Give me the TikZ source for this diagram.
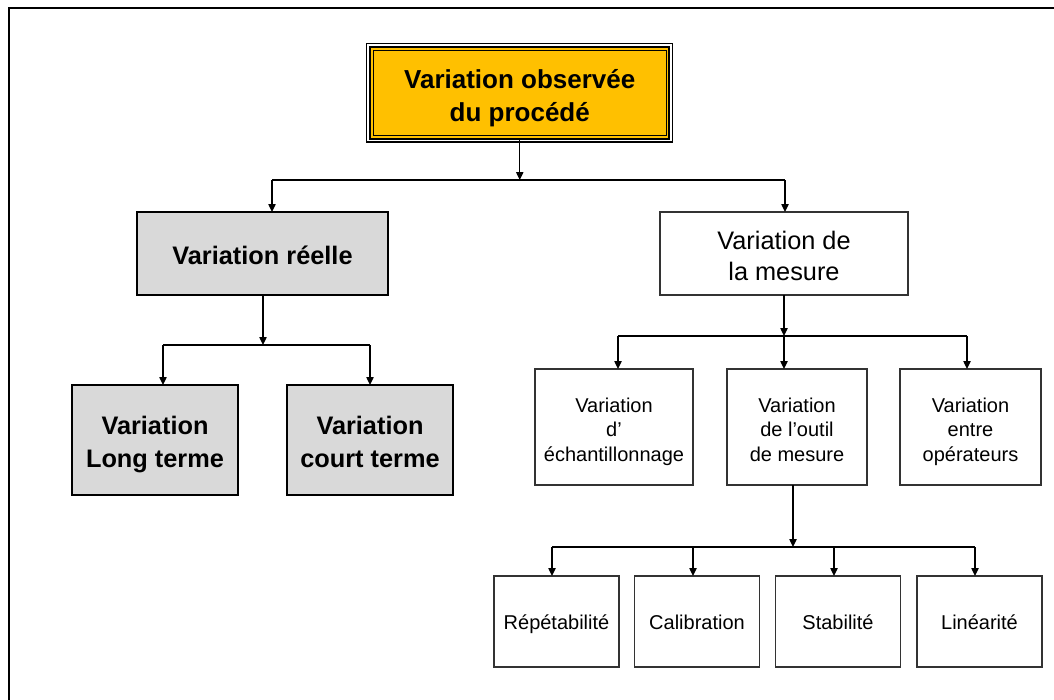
\documentclass[tikz,border=0pt]{standalone}
\usepackage{fontspec}
\setmainfont{Liberation Sans}
\usetikzlibrary{arrows.meta}
\definecolor{boxyellow}{HTML}{FFC000}
\definecolor{boxgrey}{HTML}{D9D9D9}
\definecolor{edgegrey}{HTML}{333333}
% invisible rules that set the room above the first line and below the last one
\newcommand\topgap[1]{\rule{0pt}{#1pt}}
\newcommand\botgap[1]{\rule[-#1pt]{0pt}{#1pt}}
\begin{document}
\begin{tikzpicture}[x=0.75pt,y=-0.75pt,
  conn/.style={line width=1pt},
  arr/.style={conn,-{Triangle[length=6pt,width=5.5pt]}},
  basebox/.style={rectangle,inner sep=0pt,outer sep=0pt,align=center},
  headbox/.style={basebox,draw=black,line width=1.5pt,fill=boxyellow,
    font=\fontsize{19.5}{25}\selectfont\bfseries},
  greybox/.style={basebox,draw=black,line width=2.2pt,fill=boxgrey,
    font=\fontsize{19}{24.5}\selectfont\bfseries},
  plainbox/.style={basebox,draw=edgegrey,line width=0.9pt,fill=white,
    font=\fontsize{19}{23.5}\selectfont},
  smallbox/.style={basebox,draw=edgegrey,line width=0.9pt,fill=white,
    font=\fontsize{15}{18.3}\selectfont}
]
\clip (0,0) rectangle (1054,700);
\fill[white] (0,0) rectangle (1054,700);

% page frame (open to the right and bottom)
\draw[line width=1.6pt] (9,7.7) rectangle (1090,730);

% head box with its triple border
\node[headbox,minimum width=224.6pt,minimum height=69pt] (head) at (519.75,92.5)
  {\topgap{26.5}Variation observée\\du procédé\botgap{7.5}};
\draw[line width=0.8pt] ([xshift=-2.6pt,yshift=2.6pt]head.north west)
  rectangle ([xshift=2.6pt,yshift=-2.6pt]head.south east);
\draw[line width=0.7pt] ([xshift=2.6pt,yshift=-2.6pt]head.north west)
  rectangle ([xshift=-2.6pt,yshift=2.6pt]head.south east);

% second level
\node[greybox,minimum width=188.25pt,minimum height=62.25pt] (reelle) at (262.5,253.5)
  {\topgap{23.2}Variation réelle\botgap{7.35}};
\node[plainbox,minimum width=186pt,minimum height=62.25pt] (mesure) at (784,253.5)
  {\topgap{24}Variation de\\la mesure\botgap{7}};

% real variation
\node[greybox,minimum width=124.5pt,minimum height=82.5pt] (long) at (155,440)
  {\topgap{24}Variation\\Long terme\botgap{7.35}};
\node[greybox,minimum width=124.5pt,minimum height=82.5pt] (court) at (370,440)
  {\topgap{24}Variation\\court terme\botgap{7.35}};

% measurement variation
\node[smallbox,minimum width=118.5pt,minimum height=87pt] (echant) at (614,427)
  {\topgap{20.3}Variation\\d’\\échantillonnage\botgap{5.5}};
\node[smallbox,minimum width=105pt,minimum height=87pt] (outil) at (797,427)
  {\topgap{20.3}Variation\\de l’outil\\de mesure\botgap{5.5}};
\node[smallbox,minimum width=105.75pt,minimum height=87pt] (oper) at (970.5,427)
  {\topgap{20.3}Variation\\entre\\opérateurs\botgap{5.5}};

% measuring tool
\node[smallbox,minimum width=93.75pt,minimum height=68.25pt] (repet) at (556.5,621.5) {\topgap{17.3}Répétabilité\botgap{5.5}};
\node[smallbox,minimum width=93.75pt,minimum height=68.25pt] (calib) at (697,621.5) {\topgap{17.3}Calibration\botgap{5.5}};
\node[smallbox,minimum width=93.75pt,minimum height=68.25pt] (stab) at (838,621.5) {\topgap{17.3}Stabilité\botgap{5.5}};
\node[smallbox,minimum width=93.75pt,minimum height=68.25pt] (lin) at (979.5,621.5) {\topgap{17.3}Linéarité\botgap{5.5}};

% connectors: head -> level 2
\coordinate (j1) at (519.75,180);
\coordinate (j1l) at (272,180);
\coordinate (j1r) at (785,180);
\draw[arr] (head.south) -- (j1);
\draw[conn] (j1l) -- (j1r);
\draw[arr] (j1l) -- (j1l |- reelle.north);
\draw[arr] (j1r) -- (j1r |- mesure.north);

% reelle -> long / court
\coordinate (j2) at (263,345);
\coordinate (j2l) at (163,345);
\coordinate (j2r) at (370,345);
\draw[arr] (j2 |- reelle.south) -- (j2);
\draw[conn] (j2l) -- (j2r);
\draw[arr] (j2l) -- (j2l |- long.north);
\draw[arr] (j2r) -- (j2r |- court.north);

% mesure -> three sources
\coordinate (j3) at (784,336);
\coordinate (j3l) at (618,336);
\coordinate (j3r) at (967,336);
\draw[arr] (mesure.south) -- (j3);
\draw[conn] (j3l) -- (j3r);
\draw[arr] (j3l) -- (j3l |- echant.north);
\draw[arr] (j3) -- (j3 |- outil.north);
\draw[arr] (j3r) -- (j3r |- oper.north);

% outil -> four characteristics
\coordinate (j4) at (793,547);
\coordinate (j4a) at (552,547);
\coordinate (j4b) at (693,547);
\coordinate (j4c) at (834,547);
\coordinate (j4d) at (975,547);
\draw[arr] (j4 |- outil.south) -- (j4);
\draw[conn] (j4a) -- (j4d);
\draw[arr] (j4a) -- (j4a |- repet.north);
\draw[arr] (j4b) -- (j4b |- calib.north);
\draw[arr] (j4c) -- (j4c |- stab.north);
\draw[arr] (j4d) -- (j4d |- lin.north);
\end{tikzpicture}
\end{document}
